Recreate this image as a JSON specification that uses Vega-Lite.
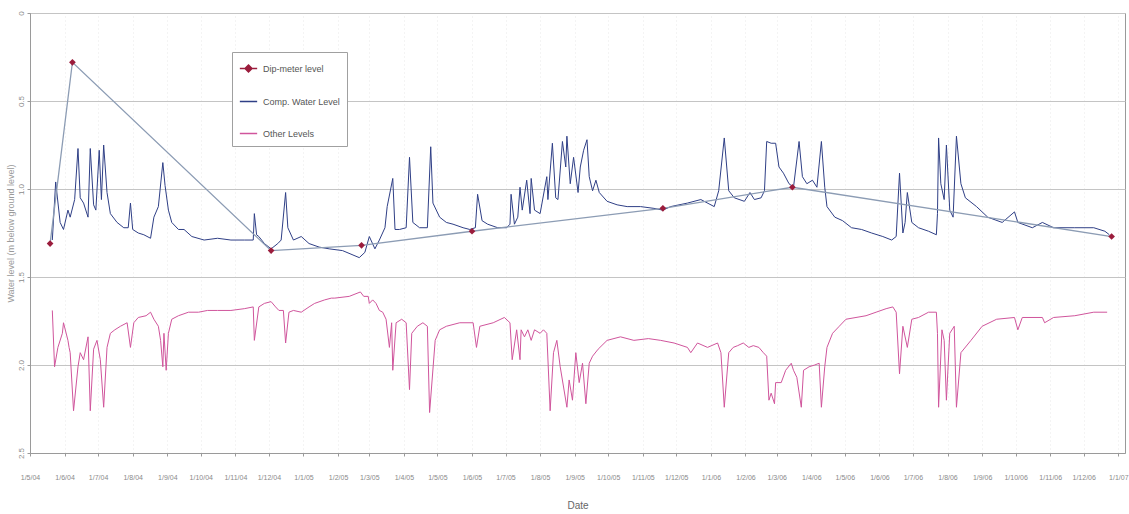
{
  "$schema": "https://vega.github.io/schema/vega-lite/v6.json",
  "width": 1095,
  "height": 440,
  "autosize": {"type": "none"},
  "padding": {"left": 30, "top": 13, "right": 4, "bottom": 61},
  "background": "white",
  "config": {
    "view": {"stroke": "#9a9a9a", "strokeWidth": 1},
    "font": "Liberation Sans Narrow, Liberation Sans, sans-serif"
  },
  "datasets": {
    "dip": [
      {"date": "2004-05-19", "level": 1.31, "series": "Dip-meter level"},
      {"date": "2004-06-08", "level": 0.28, "series": "Dip-meter level"},
      {"date": "2004-12-03", "level": 1.35, "series": "Dip-meter level"},
      {"date": "2005-02-22", "level": 1.32, "series": "Dip-meter level"},
      {"date": "2005-06-01", "level": 1.24, "series": "Dip-meter level"},
      {"date": "2005-11-19", "level": 1.11, "series": "Dip-meter level"},
      {"date": "2006-03-15", "level": 0.99, "series": "Dip-meter level"},
      {"date": "2006-12-26", "level": 1.27, "series": "Dip-meter level"}
    ],
    "comp": [
      {"date": "2004-05-21", "level": 1.29}, {"date": "2004-05-24", "level": 0.96}, {"date": "2004-05-28", "level": 1.19}, {"date": "2004-05-31", "level": 1.23},
      {"date": "2004-06-04", "level": 1.12}, {"date": "2004-06-06", "level": 1.16}, {"date": "2004-06-10", "level": 1.06}, {"date": "2004-06-13", "level": 0.77},
      {"date": "2004-06-15", "level": 1.05}, {"date": "2004-06-18", "level": 1.08}, {"date": "2004-06-22", "level": 1.16}, {"date": "2004-06-24", "level": 0.77},
      {"date": "2004-06-27", "level": 1.09}, {"date": "2004-06-29", "level": 1.12}, {"date": "2004-07-02", "level": 0.78}, {"date": "2004-07-04", "level": 1.06},
      {"date": "2004-07-06", "level": 0.75}, {"date": "2004-07-09", "level": 1.02}, {"date": "2004-07-12", "level": 1.14}, {"date": "2004-07-18", "level": 1.19},
      {"date": "2004-07-24", "level": 1.22}, {"date": "2004-07-28", "level": 1.22}, {"date": "2004-07-30", "level": 1.08}, {"date": "2004-08-01", "level": 1.23},
      {"date": "2004-08-06", "level": 1.25}, {"date": "2004-08-11", "level": 1.26}, {"date": "2004-08-17", "level": 1.28}, {"date": "2004-08-20", "level": 1.16},
      {"date": "2004-08-24", "level": 1.10}, {"date": "2004-08-28", "level": 0.85}, {"date": "2004-08-30", "level": 0.98}, {"date": "2004-09-02", "level": 1.12},
      {"date": "2004-09-05", "level": 1.19}, {"date": "2004-09-11", "level": 1.23}, {"date": "2004-09-16", "level": 1.23}, {"date": "2004-09-23", "level": 1.27},
      {"date": "2004-10-04", "level": 1.29}, {"date": "2004-10-16", "level": 1.28}, {"date": "2004-10-28", "level": 1.29}, {"date": "2004-11-09", "level": 1.29},
      {"date": "2004-11-17", "level": 1.29}, {"date": "2004-11-18", "level": 1.14}, {"date": "2004-11-20", "level": 1.26}, {"date": "2004-11-22", "level": 1.27},
      {"date": "2004-11-27", "level": 1.31}, {"date": "2004-12-03", "level": 1.34}, {"date": "2004-12-09", "level": 1.31}, {"date": "2004-12-12", "level": 1.29},
      {"date": "2004-12-16", "level": 1.02}, {"date": "2004-12-18", "level": 1.22}, {"date": "2004-12-23", "level": 1.29}, {"date": "2004-12-30", "level": 1.27},
      {"date": "2005-01-06", "level": 1.31}, {"date": "2005-01-15", "level": 1.33}, {"date": "2005-01-24", "level": 1.34}, {"date": "2005-02-05", "level": 1.35},
      {"date": "2005-02-20", "level": 1.39}, {"date": "2005-02-25", "level": 1.36}, {"date": "2005-03-01", "level": 1.27}, {"date": "2005-03-06", "level": 1.34},
      {"date": "2005-03-10", "level": 1.29}, {"date": "2005-03-15", "level": 1.22}, {"date": "2005-03-17", "level": 1.10}, {"date": "2005-03-22", "level": 0.94},
      {"date": "2005-03-24", "level": 1.23}, {"date": "2005-03-28", "level": 1.23}, {"date": "2005-04-03", "level": 1.22}, {"date": "2005-04-06", "level": 0.82},
      {"date": "2005-04-09", "level": 1.19}, {"date": "2005-04-15", "level": 1.22}, {"date": "2005-04-22", "level": 1.22}, {"date": "2005-04-25", "level": 0.76},
      {"date": "2005-04-27", "level": 1.08}, {"date": "2005-05-03", "level": 1.16}, {"date": "2005-05-09", "level": 1.19}, {"date": "2005-05-15", "level": 1.20},
      {"date": "2005-05-24", "level": 1.22}, {"date": "2005-05-30", "level": 1.23}, {"date": "2005-06-04", "level": 1.22}, {"date": "2005-06-06", "level": 1.03},
      {"date": "2005-06-10", "level": 1.18}, {"date": "2005-06-15", "level": 1.20}, {"date": "2005-06-24", "level": 1.22}, {"date": "2005-07-02", "level": 1.22},
      {"date": "2005-07-05", "level": 1.20}, {"date": "2005-07-06", "level": 1.03}, {"date": "2005-07-09", "level": 1.20}, {"date": "2005-07-12", "level": 1.16},
      {"date": "2005-07-14", "level": 0.99}, {"date": "2005-07-16", "level": 1.12}, {"date": "2005-07-20", "level": 0.95}, {"date": "2005-07-23", "level": 1.14},
      {"date": "2005-07-24", "level": 0.94}, {"date": "2005-07-27", "level": 1.12}, {"date": "2005-08-01", "level": 1.14}, {"date": "2005-08-07", "level": 0.93},
      {"date": "2005-08-08", "level": 1.06}, {"date": "2005-08-12", "level": 0.74}, {"date": "2005-08-15", "level": 1.05}, {"date": "2005-08-17", "level": 1.06},
      {"date": "2005-08-21", "level": 0.73}, {"date": "2005-08-24", "level": 0.875}, {"date": "2005-08-25", "level": 0.70}, {"date": "2005-08-28", "level": 0.97},
      {"date": "2005-08-31", "level": 0.82}, {"date": "2005-09-04", "level": 1.02}, {"date": "2005-09-06", "level": 0.875}, {"date": "2005-09-09", "level": 0.78},
      {"date": "2005-09-12", "level": 0.72}, {"date": "2005-09-14", "level": 0.93}, {"date": "2005-09-17", "level": 1.01}, {"date": "2005-09-20", "level": 0.95},
      {"date": "2005-09-23", "level": 1.02}, {"date": "2005-09-30", "level": 1.07}, {"date": "2005-10-09", "level": 1.09}, {"date": "2005-10-18", "level": 1.10},
      {"date": "2005-10-30", "level": 1.10}, {"date": "2005-11-11", "level": 1.11}, {"date": "2005-11-19", "level": 1.12}, {"date": "2005-11-26", "level": 1.10},
      {"date": "2005-12-11", "level": 1.08}, {"date": "2005-12-23", "level": 1.06}, {"date": "2006-01-04", "level": 1.10}, {"date": "2006-01-08", "level": 1.01},
      {"date": "2006-01-13", "level": 0.71}, {"date": "2006-01-17", "level": 1.01}, {"date": "2006-01-22", "level": 1.05}, {"date": "2006-01-31", "level": 1.07},
      {"date": "2006-02-05", "level": 1.02}, {"date": "2006-02-09", "level": 1.06}, {"date": "2006-02-15", "level": 1.05}, {"date": "2006-02-18", "level": 1.01},
      {"date": "2006-02-20", "level": 0.73}, {"date": "2006-02-24", "level": 0.74}, {"date": "2006-02-28", "level": 0.74}, {"date": "2006-03-03", "level": 0.875},
      {"date": "2006-03-07", "level": 0.91}, {"date": "2006-03-12", "level": 0.97}, {"date": "2006-03-16", "level": 0.99}, {"date": "2006-03-19", "level": 0.835},
      {"date": "2006-03-21", "level": 0.73}, {"date": "2006-03-24", "level": 0.93}, {"date": "2006-03-28", "level": 0.97}, {"date": "2006-04-02", "level": 0.95},
      {"date": "2006-04-06", "level": 0.99}, {"date": "2006-04-10", "level": 0.73}, {"date": "2006-04-13", "level": 0.99}, {"date": "2006-04-15", "level": 1.10},
      {"date": "2006-04-22", "level": 1.16}, {"date": "2006-04-29", "level": 1.18}, {"date": "2006-05-07", "level": 1.22}, {"date": "2006-05-16", "level": 1.23},
      {"date": "2006-05-25", "level": 1.25}, {"date": "2006-06-04", "level": 1.27}, {"date": "2006-06-12", "level": 1.29}, {"date": "2006-06-16", "level": 1.27},
      {"date": "2006-06-19", "level": 0.91}, {"date": "2006-06-22", "level": 1.25}, {"date": "2006-06-24", "level": 1.19}, {"date": "2006-06-26", "level": 1.02},
      {"date": "2006-06-30", "level": 1.19}, {"date": "2006-07-06", "level": 1.22}, {"date": "2006-07-15", "level": 1.24}, {"date": "2006-07-22", "level": 1.26},
      {"date": "2006-07-23", "level": 1.14}, {"date": "2006-07-24", "level": 0.71}, {"date": "2006-07-26", "level": 0.97}, {"date": "2006-07-29", "level": 1.06},
      {"date": "2006-07-31", "level": 0.75}, {"date": "2006-08-03", "level": 1.12}, {"date": "2006-08-06", "level": 1.16}, {"date": "2006-08-09", "level": 0.70},
      {"date": "2006-08-13", "level": 0.97}, {"date": "2006-08-17", "level": 1.05}, {"date": "2006-08-27", "level": 1.10}, {"date": "2006-09-06", "level": 1.16},
      {"date": "2006-09-19", "level": 1.19}, {"date": "2006-09-30", "level": 1.13}, {"date": "2006-10-03", "level": 1.19}, {"date": "2006-10-16", "level": 1.22},
      {"date": "2006-10-25", "level": 1.19}, {"date": "2006-11-04", "level": 1.22}, {"date": "2006-11-23", "level": 1.22}, {"date": "2006-12-10", "level": 1.22},
      {"date": "2006-12-20", "level": 1.24}, {"date": "2006-12-24", "level": 1.26}
    ],
    "other": [
      {"date": "2004-05-21", "level": 1.69}, {"date": "2004-05-23", "level": 2.01}, {"date": "2004-05-26", "level": 1.90}, {"date": "2004-05-30", "level": 1.82},
      {"date": "2004-05-31", "level": 1.76}, {"date": "2004-06-04", "level": 1.86}, {"date": "2004-06-05", "level": 1.90}, {"date": "2004-06-06", "level": 1.93},
      {"date": "2004-06-09", "level": 2.26}, {"date": "2004-06-13", "level": 2.01}, {"date": "2004-06-15", "level": 1.93}, {"date": "2004-06-18", "level": 1.97},
      {"date": "2004-06-22", "level": 1.84}, {"date": "2004-06-24", "level": 2.26}, {"date": "2004-06-27", "level": 1.91}, {"date": "2004-06-30", "level": 1.86},
      {"date": "2004-07-03", "level": 1.97}, {"date": "2004-07-06", "level": 2.24}, {"date": "2004-07-09", "level": 1.90}, {"date": "2004-07-12", "level": 1.82},
      {"date": "2004-07-16", "level": 1.80}, {"date": "2004-07-21", "level": 1.78}, {"date": "2004-07-27", "level": 1.76}, {"date": "2004-07-30", "level": 1.90},
      {"date": "2004-08-02", "level": 1.76}, {"date": "2004-08-06", "level": 1.73}, {"date": "2004-08-13", "level": 1.72}, {"date": "2004-08-17", "level": 1.70},
      {"date": "2004-08-20", "level": 1.74}, {"date": "2004-08-24", "level": 1.78}, {"date": "2004-08-26", "level": 1.86}, {"date": "2004-08-28", "level": 2.01},
      {"date": "2004-08-29", "level": 1.82}, {"date": "2004-08-31", "level": 2.03}, {"date": "2004-09-02", "level": 1.82}, {"date": "2004-09-05", "level": 1.74},
      {"date": "2004-09-11", "level": 1.72}, {"date": "2004-09-20", "level": 1.70}, {"date": "2004-09-29", "level": 1.70}, {"date": "2004-10-07", "level": 1.69},
      {"date": "2004-10-16", "level": 1.69}, {"date": "2004-10-28", "level": 1.69}, {"date": "2004-11-09", "level": 1.68}, {"date": "2004-11-17", "level": 1.67},
      {"date": "2004-11-18", "level": 1.86}, {"date": "2004-11-22", "level": 1.67}, {"date": "2004-11-27", "level": 1.65}, {"date": "2004-12-03", "level": 1.64},
      {"date": "2004-12-07", "level": 1.67}, {"date": "2004-12-10", "level": 1.69}, {"date": "2004-12-14", "level": 1.69}, {"date": "2004-12-16", "level": 1.875},
      {"date": "2004-12-19", "level": 1.70}, {"date": "2004-12-23", "level": 1.69}, {"date": "2004-12-30", "level": 1.70}, {"date": "2005-01-06", "level": 1.67},
      {"date": "2005-01-11", "level": 1.65}, {"date": "2005-01-20", "level": 1.63}, {"date": "2005-01-26", "level": 1.62}, {"date": "2005-01-29", "level": 1.62},
      {"date": "2005-02-11", "level": 1.61}, {"date": "2005-02-21", "level": 1.585}, {"date": "2005-02-24", "level": 1.61}, {"date": "2005-02-28", "level": 1.61},
      {"date": "2005-03-01", "level": 1.65}, {"date": "2005-03-04", "level": 1.63}, {"date": "2005-03-07", "level": 1.65}, {"date": "2005-03-10", "level": 1.69},
      {"date": "2005-03-13", "level": 1.70}, {"date": "2005-03-16", "level": 1.74}, {"date": "2005-03-19", "level": 1.90}, {"date": "2005-03-21", "level": 1.76},
      {"date": "2005-03-22", "level": 2.03}, {"date": "2005-03-25", "level": 1.76}, {"date": "2005-03-30", "level": 1.74}, {"date": "2005-04-03", "level": 1.76},
      {"date": "2005-04-06", "level": 2.14}, {"date": "2005-04-08", "level": 1.82}, {"date": "2005-04-13", "level": 1.78}, {"date": "2005-04-18", "level": 1.76},
      {"date": "2005-04-22", "level": 1.78}, {"date": "2005-04-24", "level": 2.27}, {"date": "2005-04-29", "level": 1.86}, {"date": "2005-05-03", "level": 1.80},
      {"date": "2005-05-09", "level": 1.78}, {"date": "2005-05-21", "level": 1.76}, {"date": "2005-06-02", "level": 1.76}, {"date": "2005-06-05", "level": 1.90},
      {"date": "2005-06-08", "level": 1.78}, {"date": "2005-06-20", "level": 1.76}, {"date": "2005-06-30", "level": 1.73}, {"date": "2005-07-05", "level": 1.76},
      {"date": "2005-07-07", "level": 1.97}, {"date": "2005-07-11", "level": 1.80}, {"date": "2005-07-14", "level": 1.97}, {"date": "2005-07-15", "level": 1.80},
      {"date": "2005-07-18", "level": 1.84}, {"date": "2005-07-21", "level": 1.80}, {"date": "2005-07-24", "level": 1.86}, {"date": "2005-07-27", "level": 1.80},
      {"date": "2005-08-01", "level": 1.82}, {"date": "2005-08-04", "level": 1.80}, {"date": "2005-08-07", "level": 1.82}, {"date": "2005-08-10", "level": 2.26},
      {"date": "2005-08-13", "level": 1.93}, {"date": "2005-08-16", "level": 1.86}, {"date": "2005-08-19", "level": 2.01}, {"date": "2005-08-22", "level": 2.125},
      {"date": "2005-08-25", "level": 2.24}, {"date": "2005-08-27", "level": 2.085}, {"date": "2005-08-30", "level": 2.20}, {"date": "2005-09-02", "level": 1.93},
      {"date": "2005-09-05", "level": 2.10}, {"date": "2005-09-08", "level": 1.99}, {"date": "2005-09-11", "level": 2.22}, {"date": "2005-09-14", "level": 1.99},
      {"date": "2005-09-17", "level": 1.95}, {"date": "2005-09-22", "level": 1.91}, {"date": "2005-09-30", "level": 1.86}, {"date": "2005-10-12", "level": 1.84},
      {"date": "2005-10-24", "level": 1.86}, {"date": "2005-11-06", "level": 1.85}, {"date": "2005-11-17", "level": 1.86}, {"date": "2005-11-29", "level": 1.875},
      {"date": "2005-12-11", "level": 1.90}, {"date": "2005-12-14", "level": 1.93}, {"date": "2005-12-20", "level": 1.875}, {"date": "2005-12-29", "level": 1.90},
      {"date": "2006-01-07", "level": 1.875}, {"date": "2006-01-10", "level": 1.93}, {"date": "2006-01-13", "level": 2.24}, {"date": "2006-01-17", "level": 1.93},
      {"date": "2006-01-21", "level": 1.90}, {"date": "2006-01-25", "level": 1.89}, {"date": "2006-01-30", "level": 1.875}, {"date": "2006-02-04", "level": 1.90},
      {"date": "2006-02-08", "level": 1.89}, {"date": "2006-02-13", "level": 1.90}, {"date": "2006-02-17", "level": 1.93}, {"date": "2006-02-20", "level": 1.95},
      {"date": "2006-02-22", "level": 2.20}, {"date": "2006-02-24", "level": 2.16}, {"date": "2006-02-27", "level": 2.22}, {"date": "2006-02-28", "level": 2.10},
      {"date": "2006-03-05", "level": 2.10}, {"date": "2006-03-09", "level": 2.03}, {"date": "2006-03-14", "level": 1.99}, {"date": "2006-03-16", "level": 2.03},
      {"date": "2006-03-19", "level": 2.07}, {"date": "2006-03-23", "level": 2.24}, {"date": "2006-03-25", "level": 2.03}, {"date": "2006-03-30", "level": 2.01},
      {"date": "2006-04-04", "level": 2.00}, {"date": "2006-04-08", "level": 1.99}, {"date": "2006-04-10", "level": 2.24}, {"date": "2006-04-13", "level": 2.01},
      {"date": "2006-04-15", "level": 1.90}, {"date": "2006-04-20", "level": 1.82}, {"date": "2006-04-26", "level": 1.78}, {"date": "2006-05-02", "level": 1.74},
      {"date": "2006-05-11", "level": 1.73}, {"date": "2006-05-20", "level": 1.72}, {"date": "2006-05-29", "level": 1.70}, {"date": "2006-06-07", "level": 1.68},
      {"date": "2006-06-13", "level": 1.67}, {"date": "2006-06-16", "level": 1.70}, {"date": "2006-06-19", "level": 2.05}, {"date": "2006-06-22", "level": 1.78},
      {"date": "2006-06-26", "level": 1.90}, {"date": "2006-06-30", "level": 1.74}, {"date": "2006-07-06", "level": 1.73}, {"date": "2006-07-15", "level": 1.70},
      {"date": "2006-07-22", "level": 1.70}, {"date": "2006-07-23", "level": 1.82}, {"date": "2006-07-24", "level": 2.24}, {"date": "2006-07-27", "level": 1.80},
      {"date": "2006-07-29", "level": 1.86}, {"date": "2006-07-31", "level": 2.20}, {"date": "2006-08-03", "level": 1.82}, {"date": "2006-08-07", "level": 1.78},
      {"date": "2006-08-09", "level": 2.24}, {"date": "2006-08-13", "level": 1.93}, {"date": "2006-08-22", "level": 1.86}, {"date": "2006-09-01", "level": 1.78},
      {"date": "2006-09-14", "level": 1.74}, {"date": "2006-09-30", "level": 1.73}, {"date": "2006-10-03", "level": 1.80}, {"date": "2006-10-07", "level": 1.73},
      {"date": "2006-10-25", "level": 1.73}, {"date": "2006-10-27", "level": 1.76}, {"date": "2006-11-04", "level": 1.73}, {"date": "2006-11-23", "level": 1.72},
      {"date": "2006-12-10", "level": 1.70}, {"date": "2006-12-22", "level": 1.70}
    ]
  },
  "encoding": {
    "x": {
      "field": "date",
      "type": "temporal",
      "scale": {"type": "utc", "domain": [{"year": 2004, "month": 5, "date": 1, "utc": true}, {"year": 2007, "month": 1, "date": 7, "utc": true}]},
      "axis": {
        "title": "Date",
        "format": "%-d/%-m/%y",
        "tickCount": {"interval": "month", "step": 1},
        "labelFontSize": 7,
        "labelColor": "#8a8a8a",
        "labelPadding": 17,
        "labelOverlap": false,
        "labelFlush": false,
        "tickSize": 3,
        "tickColor": "#9a9a9a",
        "domainColor": "#9a9a9a",
        "grid": true,
        "gridColor": "#d8d8d8",
        "gridDash": [1, 3],
        "gridOpacity": 0.6,
        "titleFontSize": 10,
        "titleFontWeight": "normal",
        "titleColor": "#666666",
        "titlePadding": 20
      }
    },
    "y": {
      "field": "level",
      "type": "quantitative",
      "scale": {"domain": [0, 2.5], "reverse": true, "nice": false, "zero": false},
      "axis": {
        "title": "Water level (m below ground level)",
        "values": [0, 0.5, 1, 1.5, 2, 2.5],
        "labelExpr": "datum.value == 0 ? '0' : format(datum.value, '.1f')",
        "labelAngle": -90,
        "labelFontSize": 8,
        "labelColor": "#8a8a8a",
        "labelPadding": 2,
        "tickSize": 3,
        "tickColor": "#9a9a9a",
        "domainColor": "#9a9a9a",
        "grid": true,
        "gridColor": "#c4c4c4",
        "titleFontSize": 9,
        "titleFontWeight": "normal",
        "titleColor": "#9a9a9a",
        "titlePadding": 2
      }
    }
  },
  "layer": [
    {
      "data": {"name": "other"},
      "transform": [{"calculate": "'Other Levels'", "as": "series"}],
      "mark": {"type": "line", "strokeWidth": 1, "interpolate": "linear"},
      "encoding": {
        "color": {
          "field": "series",
          "type": "nominal",
          "scale": {"domain": ["Dip-meter level", "Comp. Water Level", "Other Levels"], "range": ["#9b1c3c", "#2f3f86", "#d0559c"]},
          "legend": {
            "title": null,
            "orient": "none",
            "legendX": 202,
            "legendY": 39,
            "padding": 7,
            "rowPadding": 17,
            "strokeColor": "#a0a0a0",
            "fillColor": "white",
            "symbolSize": 300,
            "symbolStrokeWidth": 1.5,
            "labelFontSize": 9,
            "labelOffset": 5,
            "labelColor": "#555555",
            "labelFont": "Liberation Sans Narrow, Liberation Sans, sans-serif",
            "encode": {
              "symbols": {
                "update": {
                  "shape": {"signal": "datum.value === 'Dip-meter level' ? 'M-1,0L1,0M0,-0.4L0.4,0L0,0.4L-0.4,0Z' : 'stroke'"},
                  "fill": {"signal": "datum.value === 'Dip-meter level' ? '#9b1c3c' : 'transparent'"},
                  "stroke": {"signal": "datum.value === 'Dip-meter level' ? '#8c9cb4' : scale('color', datum.value)"},
                  "strokeWidth": {"value": 1.5}
                }
              }
            }
          }
        }
      }
    },
    {
      "data": {"name": "comp"},
      "transform": [{"calculate": "'Comp. Water Level'", "as": "series"}],
      "mark": {"type": "line", "strokeWidth": 1, "interpolate": "linear"},
      "encoding": {"color": {"field": "series", "type": "nominal"}}
    },
    {
      "data": {"name": "dip"},
      "mark": {"type": "line", "strokeWidth": 1.3, "color": "#8c9cb4"},
      "encoding": {}
    },
    {
      "data": {"name": "dip"},
      "mark": {"type": "point", "shape": "diamond", "filled": true, "size": 45, "opacity": 1},
      "encoding": {"color": {"field": "series", "type": "nominal"}}
    }
  ]
}
